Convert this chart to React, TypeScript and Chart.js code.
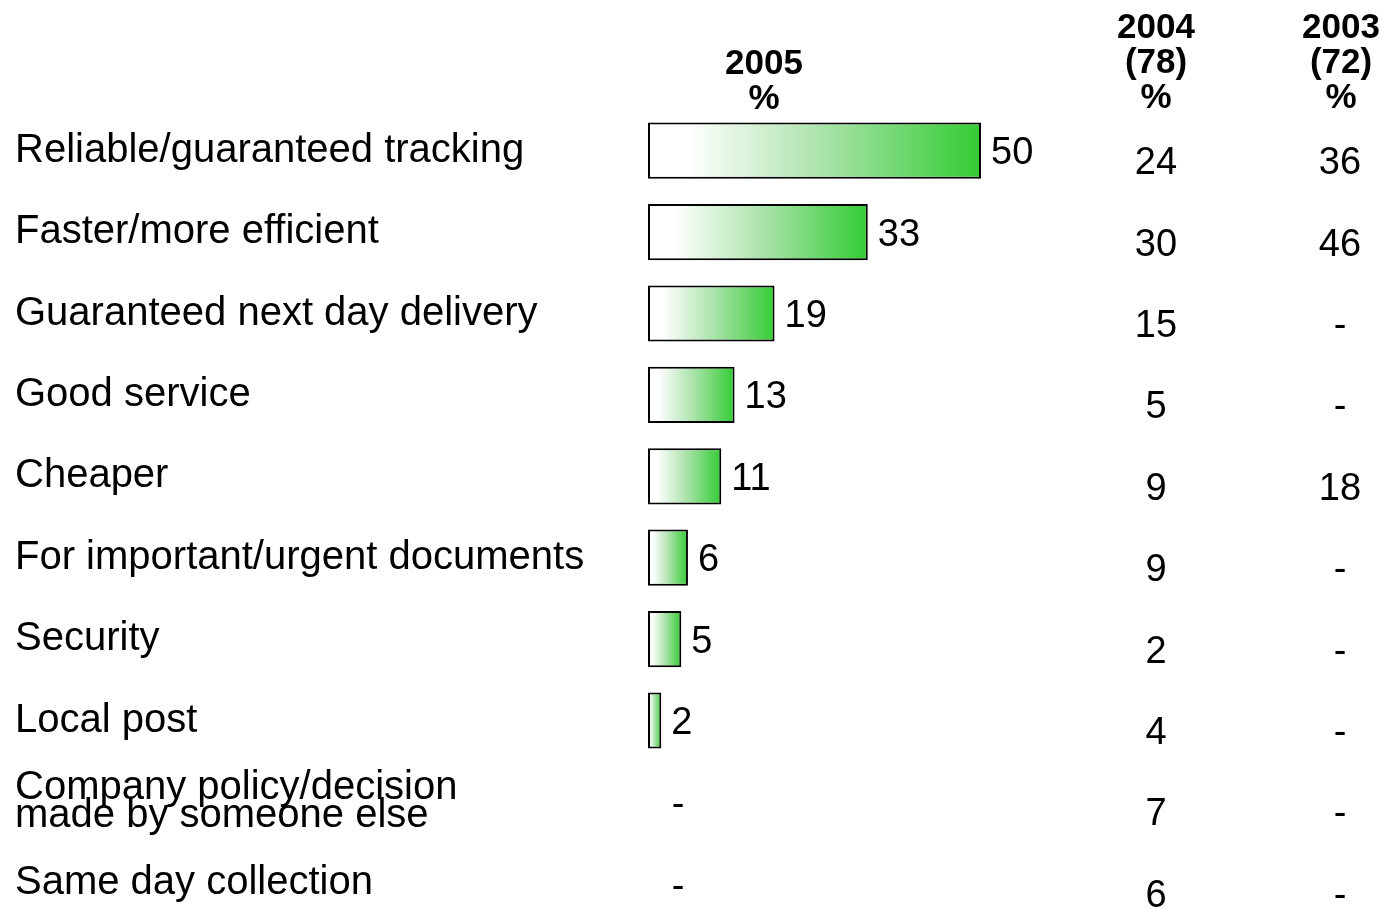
import React, { useEffect, useRef } from "react";
import { Chart, registerables } from "chart.js";

Chart.register(...registerables);

const categories: (string | string[])[] = [
  "Reliable/guaranteed tracking",
  "Faster/more efficient",
  "Guaranteed next day delivery",
  "Good service",
  "Cheaper",
  "For important/urgent documents",
  "Security",
  "Local post",
  ["Company policy/decision", "made by someone else"],
  "Same day collection",
];

const values2005: (number | null)[] = [50, 33, 19, 13, 11, 6, 5, 2, null, null];
const values2004: (number | null)[] = [24, 30, 15, 5, 9, 9, 2, 4, 7, 6];
const values2003: (number | null)[] = [36, 46, null, null, 18, null, null, null, null, null];

const header2005: string[] = ["2005", "%"];
const header2004: string[] = ["2004", "(78)", "%"];
const header2003: string[] = ["2003", "(72)", "%"];

const FONT = "'Liberation Sans', Arial, Helvetica, sans-serif";

const overlayPlugin = {
  id: "overlay",
  afterDraw(chart: any) {
    const ctx = chart.ctx;
    const xs = chart.scales.x;
    const ys = chart.scales.y;
    ctx.save();
    ctx.fillStyle = "#000";

    // headers
    ctx.font = `bold 35px ${FONT}`;
    ctx.textAlign = "center";
    ctx.textBaseline = "middle";
    const drawHeader = (lines: string[], cx: number, bottomY: number) => {
      const lh = 35;
      lines.forEach((l, i) => {
        ctx.fillText(l, cx, bottomY - (lines.length - 1 - i) * lh);
      });
    };
    drawHeader(header2005, 764, 99);
    drawHeader(header2004, 1156, 98);
    drawHeader(header2003, 1341, 98);

    ctx.font = `38px ${FONT}`;
    values2005.forEach((v, i) => {
      const y = ys.getPixelForValue(i);
      if (v == null) {
        ctx.textAlign = "center";
        ctx.fillText("-", 678, y + 4);
      } else {
        ctx.textAlign = "left";
        ctx.fillText(String(v), xs.getPixelForValue(v) + 10, y + 3);
      }
    });
    ctx.textAlign = "center";
    values2004.forEach((v, i) => {
      const y = ys.getPixelForValue(i) + 13;
      ctx.fillText(v == null ? "-" : String(v), 1156, y);
    });
    values2003.forEach((v, i) => {
      const y = ys.getPixelForValue(i) + 13;
      ctx.fillText(v == null ? "-" : String(v), 1340, y);
    });
    ctx.restore();
  },
};

export default function App() {
  const ref = useRef<HTMLCanvasElement | null>(null);

  useEffect(() => {
    if (!ref.current) return;
    const chart = new Chart(ref.current, {
      type: "bar",
      data: {
        labels: categories as any,
        datasets: [
          {
            data: values2005 as any,
            borderColor: "#000",
            borderWidth: 2,
            borderSkipped: false,
            barPercentage: 0.69,
            categoryPercentage: 1,
            backgroundColor: (c: any) => {
              const chart = c.chart;
              const xs = chart.scales?.x;
              const v = values2005[c.dataIndex];
              if (!xs || !chart.chartArea || v == null) return "#33cc33";
              const x0 = xs.getPixelForValue(0);
              const x1 = xs.getPixelForValue(v);
              const g = chart.ctx.createLinearGradient(x0, 0, x1, 0);
              g.addColorStop(0, "#ffffff");
              g.addColorStop(0.12, "#ffffff");
              g.addColorStop(0.5, "#b0e4b0");
              g.addColorStop(1, "#33cc33");
              return g;
            },
          },
        ],
      },
      options: {
        indexAxis: "y",
        responsive: false,
        animation: false,
        layout: { padding: { left: 15, right: 71, top: 110, bottom: 16 } },
        plugins: { legend: { display: false }, tooltip: { enabled: false } },
        scales: {
          x: { display: false, min: 0, max: 100, grid: { display: false } },
          y: {
            grid: { display: false, drawTicks: false },
            border: { display: false },
            afterFit: (s: any) => {
              s.width = 633;
            },
            ticks: {
              crossAlign: "far",
              color: "#000",
              font: { family: FONT, size: 40, lineHeight: 0.68 },
              padding: 0,
              autoSkip: false,
            },
          },
        },
      } as any,
      plugins: [overlayPlugin],
    });
    return () => chart.destroy();
  }, []);

  return (
    <div
      style={{
        position: "fixed",
        left: 0,
        top: 0,
        width: 1385,
        height: 910,
        overflow: "hidden",
        background: "#fff",
      }}
    >
      <canvas ref={ref} width={1385} height={940} style={{ display: "block" }} />
    </div>
  );
}
